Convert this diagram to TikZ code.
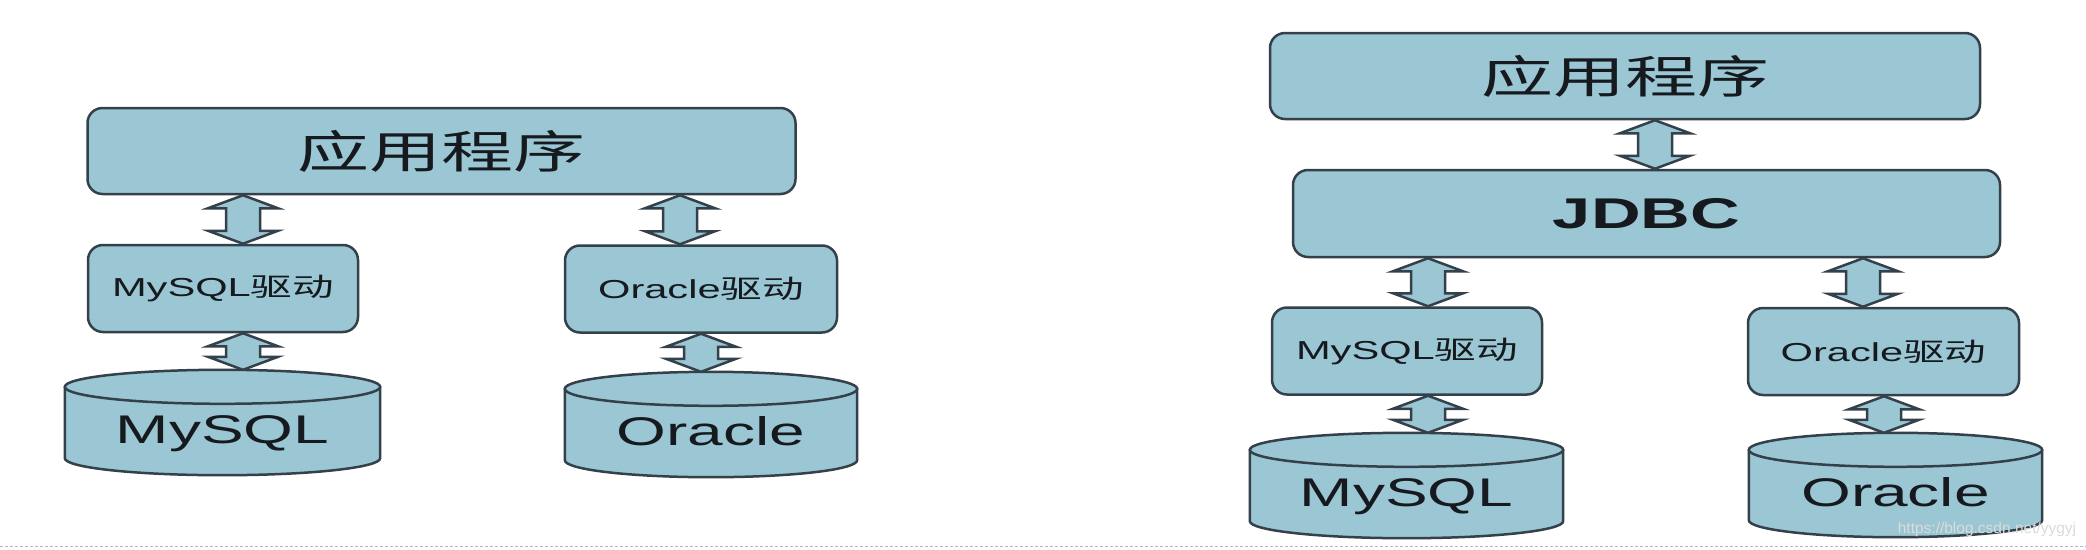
\documentclass[tikz,border=0pt]{standalone}
\usepackage{fontspec}
\usepackage{graphicx}
\setmainfont{Liberation Sans}
\newfontfamily\cjk{Noto Sans CJK SC}
\usetikzlibrary{calc, backgrounds}
\definecolor{boxblue}{RGB}{155,199,212}
\definecolor{edgegray}{RGB}{52,64,74}
\definecolor{inkblack}{RGB}{22,26,30}
\newcommand{\wide}[1]{\scalebox{1.6}[1]{#1}}
\tikzstyle{box} = [rectangle, rounded corners=15pt, draw=edgegray, line width=2.5pt, fill=boxblue, text=inkblack, inner sep=0pt]
\tikzstyle{app} = [box, minimum width=708pt, minimum height=86pt, font=\cjk\fontsize{45pt}{50pt}\selectfont]
\tikzstyle{driver} = [box, minimum width=271pt, minimum height=87pt, font=\fontsize{26pt}{30pt}\selectfont]
\tikzstyle{db} = [rectangle, inner sep=0pt, minimum height=105pt, text height=42pt, text depth=0pt, text=inkblack, font=\fontsize{40pt}{44pt}\selectfont]
\tikzstyle{dbshape} = [draw=edgegray, line width=2.5pt, fill=boxblue]
\tikzstyle{dblarrow} = [draw=edgegray, line width=2.5pt, fill=boxblue, line join=miter]
% two-headed block arrow between two points on one column
\newcommand{\dbarrow}[2]{%
  \filldraw[dblarrow] let \p1=#1, \p2=#2 in
    (\x1,\y1) -- (\x1+35pt,\y1-13pt) -- (\x1+17pt,\y1-13pt) -- (\x1+17pt,\y2+13pt)
    -- (\x1+35pt,\y2+13pt) -- (\x1,\y2) -- (\x1-35pt,\y2+13pt) -- (\x1-17pt,\y2+13pt)
    -- (\x1-17pt,\y1-13pt) -- (\x1-35pt,\y1-13pt) -- cycle;}
% database drum drawn round a db node
\newcommand{\drawdb}[1]{%
  \filldraw[dbshape] let \p1=(#1.north west), \p2=(#1.south east), \n1={(\x2-\x1)/2} in
    (\x1,\y1-17pt) -- (\x1,\y2+17pt) arc[start angle=180, end angle=360, x radius=\n1, y radius=17pt] -- (\x2,\y1-17pt);
  \filldraw[dbshape] let \p1=(#1.north west), \p2=(#1.south east), \n1={(\x2-\x1)/2} in
    (\x1+\n1,\y1-17pt) ellipse [x radius=\n1, y radius=17pt];}

\begin{document}
\begin{tikzpicture}[x=1pt, y=-1pt]
	\useasboundingbox (0,0) rectangle (2086,549);
	
	% Left: one driver per database
	\node (appL) [app] at (441.5,151) {\wide{应用程序}};
	\node (drvL1) [driver, minimum width=270pt] at (223,288.5) {\wide{MySQL{\cjk 驱动}}};
	\node (drvL2) [driver, minimum width=272pt] at (701,289) {\wide{Oracle{\cjk 驱动}}};
	\node (dbL1) [db, minimum width=315pt] at (222.5,422.5) {\wide{MySQL}};
	\node (dbL2) [db, minimum width=292pt] at (711,424.5) {\wide{Oracle}};
	
	% Right: JDBC in between
	\node (appR) [app, minimum width=710pt] at (1625,76) {\wide{应用程序}};
	\node (jdbc) [box, minimum width=707pt, minimum height=87pt, font=\bfseries\fontsize{43pt}{48pt}\selectfont] at (1646.5,213.5) {\wide{JDBC}};
	\node (drvR1) [driver, minimum width=270pt] at (1407,351) {\wide{MySQL{\cjk 驱动}}};
	\node (drvR2) [driver] at (1883.5,351.5) {\wide{Oracle{\cjk 驱动}}};
	\node (dbR1) [db, minimum width=313pt] at (1406.5,485.5) {\wide{MySQL}};
	\node (dbR2) [db, minimum width=293pt, minimum height=104pt] at (1895.5,485) {\wide{Oracle}};
	
	\node (wm) [font=\fontsize{15.5pt}{17pt}\selectfont, text=white!86!black] at (1987,529) {https://blog.csdn.net/yygyj};
	
	% Arrow columns
	\coordinate (colA) at (243,0);
	\coordinate (colB) at (680,0);
	\coordinate (colC) at (701,0);
	\coordinate (colD) at (1655,0);
	\coordinate (colE) at (1428,0);
	\coordinate (colF) at (1863,0);
	\coordinate (colG) at (1884,0);
	
	% Arrows
	\dbarrow{(appL.south -| colA)}{(drvL1.north -| colA)}
	\dbarrow{(drvL1.south -| colA)}{(dbL1.north -| colA)}
	\dbarrow{(appL.south -| colB)}{(drvL2.north -| colB)}
	\dbarrow{(drvL2.south -| colC)}{(dbL2.north -| colC)}
	\dbarrow{(appR.south -| colD)}{(jdbc.north -| colD)}
	\dbarrow{(jdbc.south -| colE)}{(drvR1.north -| colE)}
	\dbarrow{(drvR1.south -| colE)}{(dbR1.north -| colE)}
	\dbarrow{(jdbc.south -| colF)}{(drvR2.north -| colF)}
	\dbarrow{(drvR2.south -| colG)}{(dbR2.north -| colG)}
	
	\begin{scope}[on background layer]
		\fill[white] (0,0) rectangle (2086,549);
		\drawdb{dbL1}
		\drawdb{dbL2}
		\drawdb{dbR1}
		\drawdb{dbR2}
	\end{scope}
	
	\draw[gray!55, line width=1pt, dash pattern=on 3pt off 2pt] (0,546) -- (2086,546);
	
\end{tikzpicture}
\end{document}
